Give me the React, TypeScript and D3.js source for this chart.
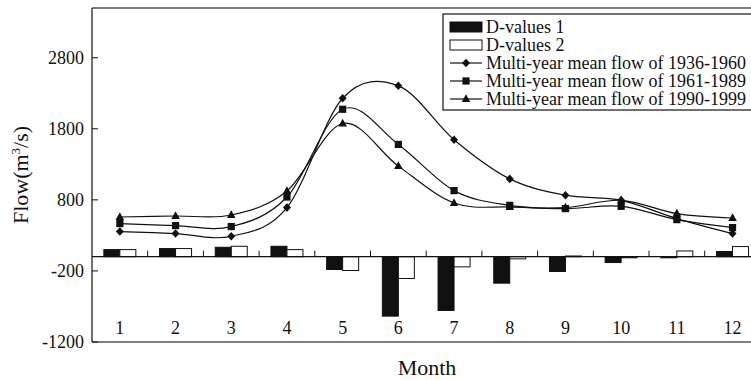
import * as d3 from 'd3';

const months = ['1', '2', '3', '4', '5', '6', '7', '8', '9', '10', '11', '12'];
const dValues1 = [100, 115, 133, 147, -180, -836, -756, -372, -208, -82, -15, 73];
const dValues2 = [100, 115, 147, 100, -194, -306, -143, -30, 10, -15, 81, 143];
const flow1936 = [354, 326, 288, 691, 2230, 2405, 1646, 1095, 866, 794, 537, 326];
const flow1961 = [466, 438, 424, 840, 2075, 1580, 930, 723, 677, 709, 522, 410];
const flow1990 = [559, 573, 587, 924, 1875, 1275, 756, 699, 691, 794, 607, 545];
const yTicks = [-1200, -200, 800, 1800, 2800];

const W = 751;
const H = 380;
const left = 92;
const right = 760.4;
const top = 8;
const bottom = 342;
const font = '"Liberation Serif", "Times New Roman", serif';

function marker(kind: string, cx: number, cy: number) {
  if (kind === 'diamond') {
    return <path d={`M${cx},${cy - 4.3}L${cx + 4},${cy}L${cx},${cy + 4.3}L${cx - 4},${cy}Z`} fill="#111" />;
  }
  if (kind === 'square') {
    return <rect x={cx - 3.6} y={cy - 3.6} width={7.2} height={7.2} fill="#111" />;
  }
  return <path d={`M${cx},${cy - 4.8}L${cx + 4.3},${cy + 3}L${cx - 4.3},${cy + 3}Z`} fill="#111" />;
}

export default function App() {
  const x = d3.scaleBand().domain(months).range([left, right]);
  const y = d3.scaleLinear().domain([-1200, 3500]).range([bottom, top]);
  const cx = (m: string) => (x(m) as number) + x.bandwidth() / 2;
  const barW = 16;

  const line = d3
    .line<number>()
    .x((_, i) => cx(months[i]))
    .y((d) => y(d))
    .curve(d3.curveCatmullRom.alpha(0));

  const series = [
    { name: 'Multi-year mean flow of 1936-1960', values: flow1936, kind: 'diamond' },
    { name: 'Multi-year mean flow of 1961-1989', values: flow1961, kind: 'square' },
    { name: 'Multi-year mean flow of 1990-1999', values: flow1990, kind: 'triangle' },
  ];

  const legendX = 443;
  const legendTop = 14;
  const rowH = 18;
  const rows = ['D-values 1', 'D-values 2', ...series.map((s) => s.name)];

  return (
    <svg width={W} height={H} style={{ position: 'absolute', left: 0, top: 0, background: '#fff' }} fontFamily={font}>
      {/* frame */}
      <line x1={left} x2={right} y1={top} y2={top} stroke="#555" strokeWidth={1.3} />
      <line x1={left} x2={right} y1={bottom} y2={bottom} stroke="#555" strokeWidth={1.3} />
      <line x1={left} x2={left} y1={top} y2={bottom} stroke="#111" strokeWidth={1.2} />

      {/* y ticks */}
      {yTicks.map((t) => (
        <g key={t}>
          <line x1={left} x2={left + 6} y1={y(t)} y2={y(t)} stroke="#111" />
          <text x={84} y={y(t)} dy="0.34em" textAnchor="end" fontSize={18} fill="#111">
            {t}
          </text>
        </g>
      ))}

      {/* bars */}
      {months.map((m, i) => (
        <g key={m}>
          <rect
            x={cx(m) - barW}
            y={y(Math.max(0, dValues1[i]))}
            width={barW}
            height={Math.abs(y(0) - y(dValues1[i]))}
            fill="#111"
            stroke="#111"
          />
          <rect
            x={cx(m)}
            y={y(Math.max(0, dValues2[i]))}
            width={barW}
            height={Math.abs(y(0) - y(dValues2[i]))}
            fill="#fff"
            stroke="#111"
          />
        </g>
      ))}

      {/* zero axis with ticks between months */}
      <line x1={left} x2={right} y1={y(0)} y2={y(0)} stroke="#111" strokeWidth={1.2} />
      {months.slice(1).map((m) => (
        <line key={m} x1={x(m) as number} x2={x(m) as number} y1={y(0)} y2={y(0) - 6} stroke="#111" />
      ))}

      {/* month labels */}
      {months.map((m) => (
        <text key={m} x={cx(m)} y={334} textAnchor="middle" fontSize={18} fill="#111">
          {m}
        </text>
      ))}

      {/* lines */}
      {series.map((s) => (
        <g key={s.name}>
          <path d={line(s.values) as string} fill="none" stroke="#111" strokeWidth={1.2} />
          {s.values.map((v, i) => (
            <g key={i}>{marker(s.kind, cx(months[i]), y(v))}</g>
          ))}
        </g>
      ))}

      {/* legend */}
      <rect x={legendX} y={legendTop} width={320} height={96} fill="#fff" stroke="#111" strokeWidth={1.2} />
      {rows.map((r, i) => {
        const ry = legendTop + 13 + i * rowH;
        return (
          <g key={r}>
            {i === 0 && <rect x={450} y={ry - 5} width={32} height={10} fill="#111" stroke="#111" />}
            {i === 1 && <rect x={450} y={ry - 5} width={32} height={10} fill="#fff" stroke="#111" />}
            {i >= 2 && (
              <g>
                <line x1={450} x2={482} y1={ry} y2={ry} stroke="#111" strokeWidth={1.2} />
                {marker(series[i - 2].kind, 466, ry)}
              </g>
            )}
            <text x={486} y={ry} dy="0.34em" fontSize={18} fill="#111">
              {r}
            </text>
          </g>
        );
      })}

      {/* axis titles */}
      <text transform="translate(28,175) rotate(-90)" textAnchor="middle" fontSize={22} fill="#111">
        Flow(m<tspan dy={-8} fontSize={13}>3</tspan>
        <tspan dy={8}>/s)</tspan>
      </text>
      <text x={427} y={375} textAnchor="middle" fontSize={22} fill="#111">
        Month
      </text>
    </svg>
  );
}
